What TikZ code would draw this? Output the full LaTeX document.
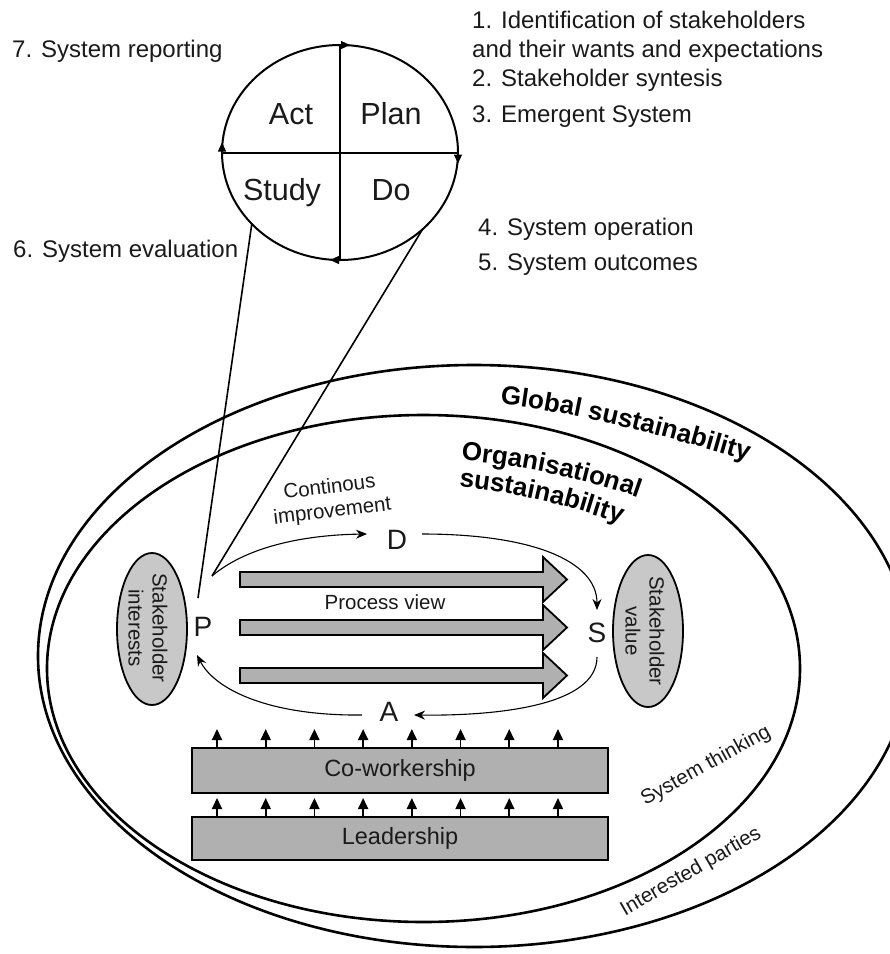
\documentclass[tikz,border=0pt]{standalone}
\usepackage{fontspec}
\setmainfont{Liberation Sans}
\usetikzlibrary{arrows.meta,shapes.geometric,decorations.text}
\definecolor{ellgray}{HTML}{C8C8C8}
\definecolor{boxgray}{HTML}{B0B0B0}
\definecolor{ink}{HTML}{1A1A1A}
\newcommand\szlist{\fontsize{24}{27}\selectfont}
\newcommand\szpdsa{\fontsize{30.5}{34}\selectfont}
\newcommand\szbold{\fontsize{26}{30}\selectfont\bfseries}
\newcommand\szmed{\fontsize{20.5}{24}\selectfont}
\newcommand\szbox{\fontsize{23.5}{27}\selectfont}
\newcommand\szlet{\fontsize{28}{32}\selectfont}
\begin{document}
\begin{tikzpicture}[x=1pt,y=-1pt,
  listtxt/.style={anchor=base west, inner sep=0pt, font=\szlist, text=ink},
  pdsatxt/.style={anchor=base, inner sep=0pt, font=\szpdsa, text=ink},
  lett/.style={inner sep=0pt, font=\szlet, text=ink},
  medtxt/.style={inner sep=0pt, font=\szmed, text=ink, align=center},
  bigell/.style={line width=2.6pt},
  pdsaell/.style={draw, ellipse, line width=2pt, inner sep=0pt, outer sep=0pt, minimum width=236pt, minimum height=215pt},
  cross/.style={line width=2pt},
  tipst/.style={line width=1.2pt, -{Triangle[width=8pt,length=9pt]}},
  pline/.style={line width=1.6pt},
  loopar/.style={line width=1.1pt, -{Stealth[width=9pt,length=11pt]}},
  arrfill/.style={draw, fill=boxgray, line width=1.8pt},
  boxst/.style={draw, fill=boxgray, line width=2pt, inner sep=0pt, minimum width=416pt, font=\szbox, text=ink},
  smallarr/.style={line width=1.8pt, -{Triangle[width=10pt,length=11pt]}},
  stkell/.style={draw, ellipse, fill=ellgray, line width=1.8pt, minimum width=70pt, minimum height=152pt, inner sep=0pt},
  bigarrow/.pic={\draw[arrfill] (0,-7.5) -- (303,-7.5) -- (303,-22.5) -- (327,0) -- (303,22.5) -- (303,7.5) -- (0,7.5) -- cycle;}
]
\useasboundingbox (0,0) rectangle (890,954);
\fill[white] (0,0) rectangle (890,954);

% ---- PDSA circle ----
\node[pdsaell] (pdsa) at (340,152.5) {};
\draw[cross] (pdsa.west) -- (pdsa.east);
\draw[cross] (pdsa.north) -- (pdsa.south);
\draw[tipst] ([xshift=-1pt]pdsa.north) -- ([xshift=10pt]pdsa.north);
\draw[tipst] ([yshift=1pt]pdsa.east) -- ([yshift=-11pt]pdsa.east);
\draw[tipst] ([xshift=1pt]pdsa.south) -- ([xshift=-10pt]pdsa.south);
\draw[tipst] ([yshift=-1pt]pdsa.west) -- ([yshift=10pt]pdsa.west);
\node[pdsatxt] (act) at (291,124.5) {Act};
\node[pdsatxt] (plan) at (391,124.5) {Plan};
\node[pdsatxt] (study) at (282,200) {Study};
\node[pdsatxt] (do) at (391,200) {Do};

% ---- list texts ----
\node[listtxt] (t7) at (12,57) {7. System reporting};
\node[listtxt] (t6) at (13,257) {6. System evaluation};
\node[listtxt] (t1) at (472,28) {1. Identification of stakeholders};
\node[listtxt] (t1b) at (472,57) {and their wants and expectations};
\node[listtxt] (t2) at (472,86) {2. Stakeholder syntesis};
\node[listtxt] (t3) at (472,122) {3. Emergent System};
\node[listtxt] (t4) at (478,235) {4. System operation};
\node[listtxt] (t5) at (478,270) {5. System outcomes};

% ---- sustainability ellipses ----
\draw[bigell] (474,656) ellipse [x radius=436, y radius=291];
\draw[bigell] (423.5,668.5) ellipse [x radius=376.5, y radius=253.5];

\path[decorate, decoration={text along path, text={|\szbold|Global sustainability}}]
  (500,404) .. controls (585,414) and (667,437) .. (752,462);
\path[decorate, decoration={text along path, text={|\szbold|Organisational}}]
  (461,460) .. controls (525,466) and (590,480) .. (642,499);
\path[decorate, decoration={text along path, text={|\szbold|sustainability}}]
  (459,487) .. controls (520,493) and (575,507) .. (624,525);

\node[medtxt, rotate=29] (st) at (706,766) {System thinking};
\node[medtxt, rotate=30] (ip) at (691,872) {Interested parties};

% ---- stakeholders ----
\node[stkell] (si) at (152,629) {};
\node[medtxt, rotate=-90] (sit) at (148,628) {Stakeholder\\interests};
\node[stkell] (sv) at (648,631) {};
\node[medtxt, rotate=-90] (svt) at (645,631) {Stakeholder\\value};

% ---- process arrows ----
\pic (ar1) at (240,579.5) {bigarrow};
\pic (ar2) at (240,627.5) {bigarrow};
\pic (ar3) at (240,675.5) {bigarrow};
\node[medtxt] (pv) at (385,602) {Process view};

% ---- PDSA loop letters ----
\node[lett] (P) at (203,627) {P};
\node[lett] (D) at (397,540) {D};
\node[lett] (S) at (597,633) {S};
\node[lett] (A) at (389,712) {A};
\coordinate (pA) at (198,598);
\coordinate (pB) at (212,576);
\coordinate (dIn) at (367,534);
\coordinate (dOut) at (422,534);
\coordinate (sIn) at (597,610);
\coordinate (sOut) at (597,657);
\coordinate (aIn) at (414,715);
\coordinate (aOut) at (362,715);
\coordinate (pIn) at (197,655);

\draw[pline] (pdsa.219) -- (pA);
\draw[pline] (pdsa.317) -- (pB);
\draw[loopar] (pB) .. controls (245,548) and (300,535) .. (dIn);
\draw[loopar] (dOut) .. controls (530,534) and (597,560) .. (sIn);
\draw[loopar] (sOut) .. controls (597,705) and (500,716) .. (aIn);
\draw[loopar] (aOut) .. controls (270,716) and (215,690) .. (pIn);

\node[medtxt, rotate=7] (ci) at (331,500) {Continous\\improvement};

% ---- boxes ----
\node[boxst, minimum height=45pt] (cw) at (400,770.5) {Co-workership};
\node[boxst, minimum height=43pt] (ld) at (400,838.5) {Leadership};
\foreach \i in {0,...,7} {
  \draw[smallarr] ([xshift={(26+48.71*\i)*1pt}]cw.north west) -- ++(0,-18);
  \draw[smallarr] ([xshift={(26+48.71*\i)*1pt}]ld.north west) -- ++(0,-18);
}
\end{tikzpicture}
\end{document}
